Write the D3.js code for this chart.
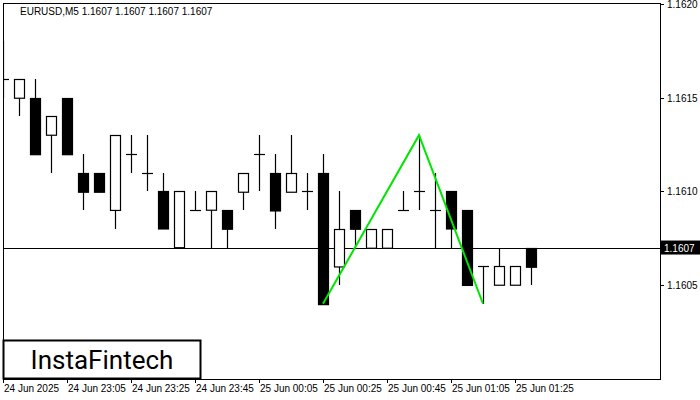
<!DOCTYPE html>
<html><head><meta charset="utf-8">
<script src="https://cdn.jsdelivr.net/npm/d3@7"></script>
<style>body{margin:0;background:#fff}svg{display:block}</style>
</head><body><svg></svg>
<script>
var opens  = [1.1616,1.1615,1.1615,1.1613,1.1615,1.1611,1.1611,1.1609,1.1612,1.1611,1.1610,1.1607,1.1609,1.1609,1.1609,1.1610,1.1612,1.1611,1.1610,1.1610,1.1611,1.1606,1.1609,1.1607,1.1607,1.1609,1.1610,1.1609,1.1610,1.1609,1.1606,1.1605,1.1605,1.1607];
var highs  = [1.1618,1.1616,1.1616,1.1614,1.1615,1.1612,1.1611,1.1613,1.1613,1.1613,1.1611,1.1610,1.1610,1.1610,1.1609,1.1611,1.1613,1.1612,1.1613,1.1611,1.1612,1.1610,1.1609,1.1608,1.1608,1.1610,1.1613,1.1611,1.1610,1.1609,1.1606,1.1607,1.1606,1.1607];
var lows   = [1.1615,1.1614,1.1612,1.1611,1.1612,1.1609,1.1610,1.1608,1.1611,1.1610,1.1608,1.1607,1.1609,1.1607,1.1607,1.1609,1.1610,1.1608,1.1610,1.1609,1.1604,1.1605,1.1607,1.1607,1.1607,1.1609,1.1609,1.1607,1.1607,1.1605,1.1604,1.1605,1.1605,1.1605];
var closes = [1.1616,1.1616,1.1612,1.1614,1.1612,1.1610,1.1610,1.1613,1.1612,1.1611,1.1608,1.1610,1.1609,1.1610,1.1608,1.1611,1.1612,1.1609,1.1611,1.1610,1.1604,1.1608,1.1608,1.1608,1.1608,1.1609,1.1610,1.1609,1.1608,1.1605,1.1606,1.1606,1.1606,1.1606];
var timeLabels = ["24 Jun 2025","24 Jun 23:05","24 Jun 23:25","24 Jun 23:45","25 Jun 00:05","25 Jun 00:25","25 Jun 00:45","25 Jun 01:05","25 Jun 01:25"];
var priceTicks = [1.1620,1.1615,1.1610,1.1605];
var patternIdx = [20,26,30];
var patternPrice = [1.1604,1.1613,1.1604];
var lastPrice = 1.1607;

var W = 700, H = 400, pLeft = 3, pRight = 660, pTop = 3, pBottom = 379;
var svg = d3.select('svg').attr('width', W).attr('height', H)
    .style('font-family', 'Liberation Sans, Arial, sans-serif');

var x = d3.scaleLinear().domain([0, 1]).range([pLeft, pLeft + 16]);
var y = d3.scaleLinear().domain([1.1605, 1.1620]).range([285, 4]);

svg.append('clipPath').attr('id', 'c').append('rect')
    .attr('x', pLeft).attr('y', pTop).attr('width', pRight - pLeft).attr('height', pBottom - pTop);

var g = svg.append('g').attr('clip-path', 'url(#c)');

// last price line
g.append('line').attr('x1', pLeft).attr('x2', pRight)
    .attr('y1', Math.round(y(lastPrice)) + 0.5).attr('y2', Math.round(y(lastPrice)) + 0.5)
    .attr('stroke', '#000');

var idx = d3.range(opens.length);
g.selectAll('.wick').data(idx).enter().append('line')
    .attr('x1', function(i) { return Math.round(x(i)) + 0.5; })
    .attr('x2', function(i) { return Math.round(x(i)) + 0.5; })
    .attr('y1', function(i) { return Math.round(y(highs[i])); })
    .attr('y2', function(i) { return Math.round(y(lows[i])); })
    .attr('stroke', '#000').attr('stroke-width', 1.2);

g.selectAll('.body').data(idx).enter().append('rect')
    .attr('x', function(i) { return Math.round(x(i)) - 4.5; })
    .attr('width', 10)
    .attr('y', function(i) { return Math.round(y(Math.max(opens[i], closes[i]))) + 0.5; })
    .attr('height', function(i) { return Math.max(0, Math.abs(y(opens[i]) - y(closes[i]))); })
    .attr('fill', function(i) { return closes[i] < opens[i] ? '#000' : '#fff'; })
    .attr('stroke', '#000').attr('stroke-width', 1.2);

// doji ticks
g.selectAll('.doji').data(idx.filter(function(i) { return opens[i] === closes[i]; })).enter().append('line')
    .attr('x1', function(i) { return x(i) - 5; })
    .attr('x2', function(i) { return x(i) + 6; })
    .attr('y1', function(i) { return Math.round(y(opens[i])) + 0.5; })
    .attr('y2', function(i) { return Math.round(y(opens[i])) + 0.5; })
    .attr('stroke', '#000').attr('stroke-width', 1.2);

// pattern
g.append('path')
    .attr('d', d3.line().x(function(d, k) { return x(patternIdx[k]); })
        .y(function(d, k) { return y(patternPrice[k]); })(patternIdx))
    .attr('fill', 'none').attr('stroke', '#00e600').attr('stroke-width', 2);

svg.append('rect').attr('x', pLeft + 0.5).attr('y', pTop + 0.5).attr('width', pRight - pLeft).attr('height', pBottom - pTop)
    .attr('fill', 'none').attr('stroke', '#000');

// right axis
svg.selectAll('.pt').data(priceTicks).enter().append('text')
    .attr('x', 667).attr('y', function(d) { return y(d) + 4; })
    .attr('font-size', 10).text(function(d) { return d.toFixed(4); });
svg.selectAll('.ptk').data(priceTicks).enter().append('line')
    .attr('x1', pRight).attr('x2', pRight + 4)
    .attr('y1', function(d) { return Math.round(y(d)) + 0.5; })
    .attr('y2', function(d) { return Math.round(y(d)) + 0.5; })
    .attr('stroke', '#000');
svg.append('rect').attr('x', pRight + 1).attr('y', y(lastPrice) - 7).attr('width', 39).attr('height', 14).attr('fill', '#000');
svg.append('text').attr('x', 664).attr('y', y(lastPrice) + 4).attr('font-size', 10).attr('fill', '#fff')
    .text(lastPrice.toFixed(4));

// bottom axis
svg.selectAll('.tl').data(timeLabels).enter().append('text')
    .attr('x', function(d, k) { return x(k * 4) + 1; }).attr('y', 392)
    .attr('font-size', 10).text(function(d) { return d; });
svg.selectAll('.tt').data(timeLabels).enter().append('line')
    .attr('x1', function(d, k) { return Math.round(x(k * 4)) + 0.5; })
    .attr('x2', function(d, k) { return Math.round(x(k * 4)) + 0.5; })
    .attr('y1', pBottom).attr('y2', pBottom + 4).attr('stroke', '#000');

// title
svg.append('text').attr('x', 20).attr('y', 15).attr('font-size', 10)
    .text('EURUSD,M5  1.1607 1.1607 1.1607 1.1607');

// logo
svg.append('rect').attr('x', 3.5).attr('y', 340.5).attr('width', 197).attr('height', 38)
    .attr('fill', '#fff').attr('stroke', '#000').attr('stroke-width', 2);
svg.append('text').attr('x', 102).attr('y', 369).attr('text-anchor', 'middle')
    .attr('font-size', 26).attr('font-family', 'Roboto, sans-serif').text('InstaFintech');
</script></body></html>
